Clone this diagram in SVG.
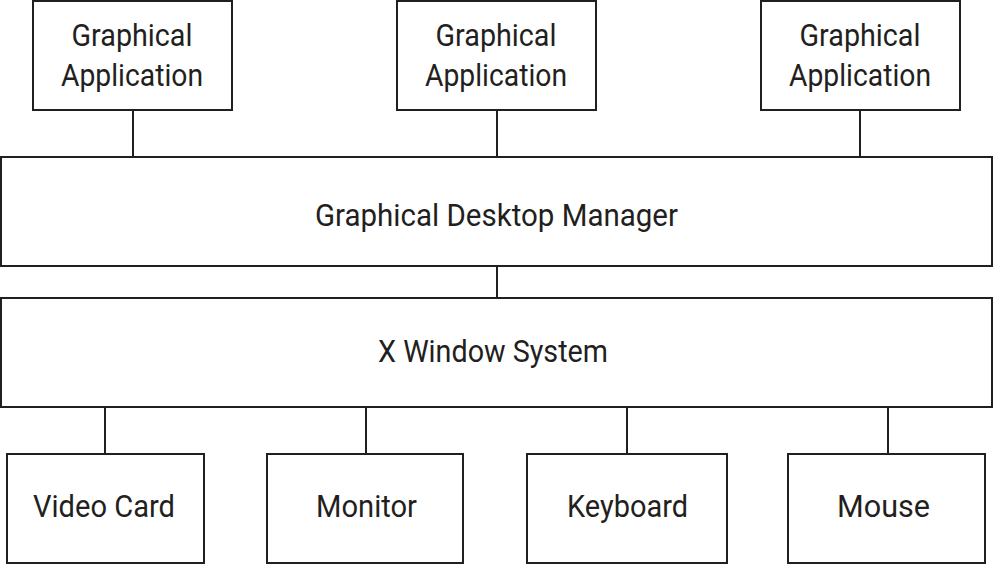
<svg xmlns="http://www.w3.org/2000/svg" width="993" height="564" viewBox="0 0 993 564">
<style>
.box{fill:#fff;stroke:#231f20;stroke-width:2}
.ln{stroke:#231f20;stroke-width:2;fill:none}
text{font-family:Roboto,"Liberation Sans",sans-serif;font-size:31px;fill:#231f20;text-anchor:middle}
</style>
<rect width="993" height="564" fill="#fff"/>
<g id="connectors">
<line class="ln" x1="133" y1="110" x2="133" y2="157"/>
<line class="ln" x1="497" y1="110" x2="497" y2="157"/>
<line class="ln" x1="860" y1="110" x2="860" y2="157"/>
<line class="ln" x1="497" y1="266" x2="497" y2="298"/>
<line class="ln" x1="105" y1="407" x2="105" y2="454"/>
<line class="ln" x1="366" y1="407" x2="366" y2="454"/>
<line class="ln" x1="627" y1="407" x2="627" y2="454"/>
<line class="ln" x1="888" y1="407" x2="888" y2="454"/>
</g>
<g id="app1">
<rect class="box" x="33" y="1" width="199" height="109"/>
<text x="132" y="46" textLength="121" lengthAdjust="spacingAndGlyphs">Graphical</text>
<text x="132" y="86" textLength="142" lengthAdjust="spacingAndGlyphs">Application</text>
</g>
<g id="app2">
<rect class="box" x="397" y="1" width="199" height="109"/>
<text x="496" y="46" textLength="121" lengthAdjust="spacingAndGlyphs">Graphical</text>
<text x="496" y="86" textLength="142" lengthAdjust="spacingAndGlyphs">Application</text>
</g>
<g id="app3">
<rect class="box" x="761" y="1" width="199" height="109"/>
<text x="860" y="46" textLength="121" lengthAdjust="spacingAndGlyphs">Graphical</text>
<text x="860" y="86" textLength="142" lengthAdjust="spacingAndGlyphs">Application</text>
</g>
<g id="gdm">
<rect class="box" x="1" y="157" width="991" height="109"/>
<text x="496.5" y="226" textLength="363" lengthAdjust="spacingAndGlyphs">Graphical Desktop Manager</text>
</g>
<g id="xws">
<rect class="box" x="1" y="298" width="991" height="109"/>
<text x="493" y="362" textLength="230" lengthAdjust="spacingAndGlyphs">X Window System</text>
</g>
<g id="videocard">
<rect class="box" x="7" y="454" width="197" height="109"/>
<text x="104" y="517" textLength="142" lengthAdjust="spacingAndGlyphs">Video Card</text>
</g>
<g id="monitor">
<rect class="box" x="267" y="454" width="196" height="109"/>
<text x="366.5" y="517" textLength="101" lengthAdjust="spacingAndGlyphs">Monitor</text>
</g>
<g id="keyboard">
<rect class="box" x="527" y="454" width="200" height="109"/>
<text x="627.5" y="517" textLength="121" lengthAdjust="spacingAndGlyphs">Keyboard</text>
</g>
<g id="mouse">
<rect class="box" x="788" y="454" width="197" height="109"/>
<text x="883.5" y="517" textLength="93" lengthAdjust="spacingAndGlyphs">Mouse</text>
</g>
</svg>
